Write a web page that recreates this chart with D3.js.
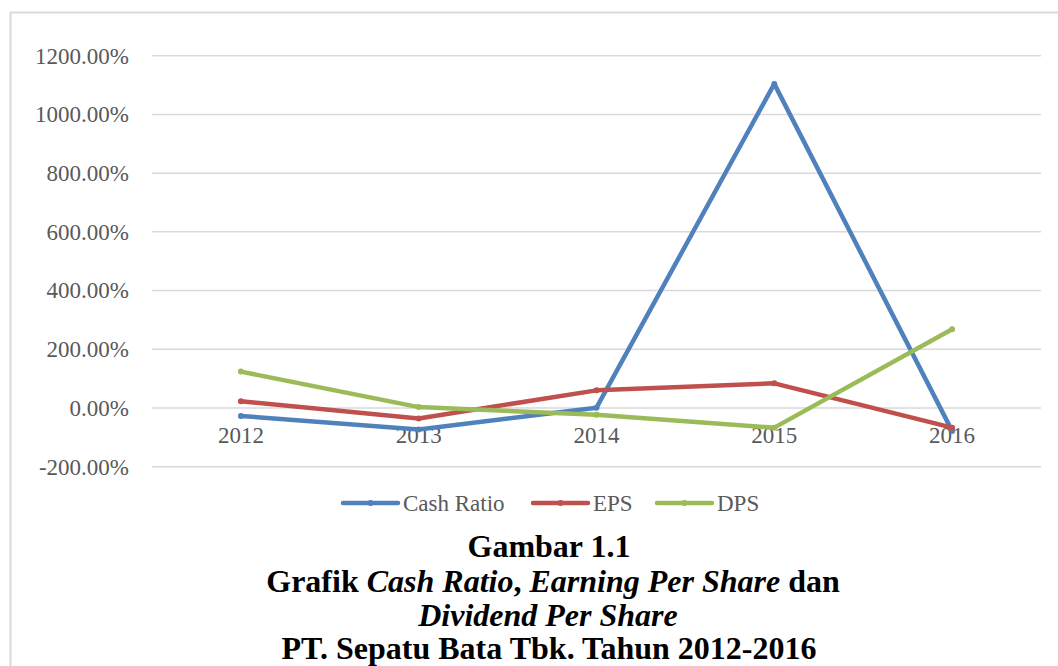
<!DOCTYPE html>
<html>
<head>
<meta charset="utf-8">
<script src="https://cdn.jsdelivr.net/npm/d3@7/dist/d3.min.js"></script>
<style>
  body { margin: 0; background: #fff; }
  svg { display: block; }
</style>
</head>
<body>
<script>
// data (percent)
var years = ['2012', '2013', '2014', '2015', '2016'];
var cashRatio = [-27, -73, 1, 1104, -78];
var eps = [23, -36, 60, 84, -67];
var dps = [124, 3, -23, -67, 268];
var yTicks = [-200, 0, 200, 400, 600, 800, 1000, 1200];
var seriesNames = ['Cash Ratio', 'EPS', 'DPS'];
var seriesColors = ['#4f81bd', '#c0504d', '#9bbb59'];

var width = 1058, height = 666;
var serif = '"Liberation Serif", "Times New Roman", serif';

var svg = d3.select('body').append('svg')
  .attr('width', width).attr('height', height);

// chart area border (left + top visible)
svg.append('path')
  .attr('d', 'M10.5,' + height + 'V12.5H' + width)
  .attr('fill', 'none')
  .attr('stroke', '#d9d9d9')
  .attr('stroke-width', 2);

var x = d3.scaleBand().domain(years).range([152, 1041]);
var y = d3.scaleLinear().domain([-200, 1200]).range([466.7, 55.7]);

// gridlines
svg.append('g').selectAll('line')
  .data(yTicks)
  .enter().append('line')
  .attr('x1', 152).attr('x2', 1041)
  .attr('y1', function (d) { return y(d); })
  .attr('y2', function (d) { return y(d); })
  .attr('stroke', '#d9d9d9')
  .attr('stroke-width', 1.5);

// y axis labels (plain hyphen for negatives, like the original)
var yAxis = d3.axisLeft(y).tickValues(yTicks).tickSize(0).tickPadding(0)
  .tickFormat(function (d) { return d.toFixed(2) + '%'; });
svg.append('g')
  .attr('transform', 'translate(129,0)')
  .call(yAxis)
  .call(function (g) { g.select('.domain').remove(); })
  .selectAll('text')
  .attr('font-family', serif)
  .attr('font-size', 23)
  .attr('fill', '#595959');

// category labels along the zero line
var xAxis = d3.axisBottom(x).tickSize(0).tickPadding(0);
svg.append('g')
  .attr('transform', 'translate(0,' + (y(0) + 19) + ')')
  .call(xAxis)
  .call(function (g) { g.select('.domain').remove(); })
  .selectAll('text')
  .attr('font-family', serif)
  .attr('font-size', 23)
  .attr('fill', '#595959');

var line = d3.line()
  .x(function (d, i) { return x(years[i]) + x.bandwidth() / 2; })
  .y(function (d) { return y(d); });

[cashRatio, eps, dps].forEach(function (vals, k) {
  var g = svg.append('g');
  g.append('path')
    .attr('d', line(vals))
    .attr('fill', 'none')
    .attr('stroke', seriesColors[k])
    .attr('stroke-width', 4.5)
    .attr('stroke-linejoin', 'round')
    .attr('stroke-linecap', 'round');
  g.selectAll('circle')
    .data(vals)
    .enter().append('circle')
    .attr('cx', function (d, i) { return x(years[i]) + x.bandwidth() / 2; })
    .attr('cy', function (d) { return y(d); })
    .attr('r', 3)
    .attr('fill', seriesColors[k]);
});

// legend
var legendX = [343, 533, 657];
var legend = svg.append('g').selectAll('g')
  .data(seriesNames)
  .enter().append('g')
  .attr('transform', function (d, i) { return 'translate(' + legendX[i] + ',503)'; });
legend.append('line')
  .attr('x1', 0).attr('x2', 55)
  .attr('stroke', function (d, i) { return seriesColors[i]; })
  .attr('stroke-width', 4.5)
  .attr('stroke-linecap', 'round');
legend.append('circle')
  .attr('cx', 27.5).attr('r', 3)
  .attr('fill', function (d, i) { return seriesColors[i]; });
legend.append('text')
  .attr('x', 60).attr('y', 8)
  .attr('font-family', serif)
  .attr('font-size', 23)
  .attr('fill', '#595959')
  .text(function (d) { return d; });

// caption
var caption = svg.append('text')
  .attr('text-anchor', 'middle')
  .attr('font-family', serif)
  .attr('font-size', 32)
  .attr('font-weight', 'bold')
  .attr('fill', '#000');

caption.append('tspan').attr('x', 549).attr('y', 557).text('Gambar 1.1');

var l2 = caption.append('tspan').attr('x', 553).attr('y', 592);
l2.append('tspan').text('Grafik ');
l2.append('tspan').attr('font-style', 'italic').text('Cash Ratio');
l2.append('tspan').text(', ');
l2.append('tspan').attr('font-style', 'italic').text('Earning Per Share');
l2.append('tspan').text(' dan');

caption.append('tspan').attr('x', 548).attr('y', 626)
  .attr('font-style', 'italic').text('Dividend Per Share');

caption.append('tspan').attr('x', 549).attr('y', 659)
  .text('PT. Sepatu Bata Tbk. Tahun 2012-2016');
</script>
</body>
</html>
